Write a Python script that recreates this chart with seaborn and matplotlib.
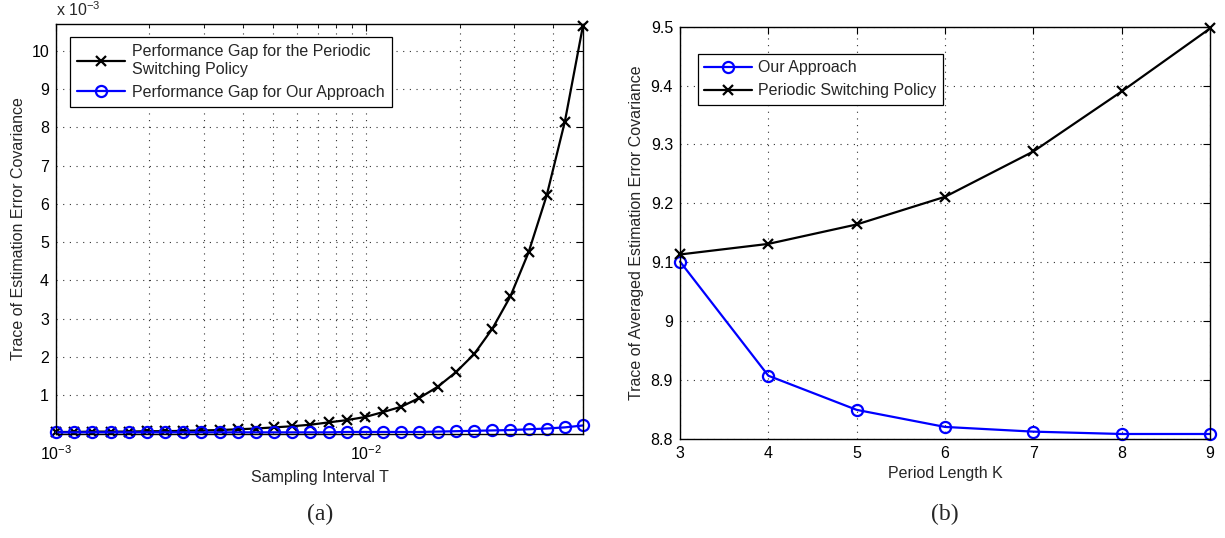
import matplotlib
matplotlib.use("Agg")
import matplotlib.pyplot as plt
import matplotlib.ticker as mticker
import pandas as pd
import seaborn as sns

# ---- (a) performance gap versus sampling interval (values in units of 1e-3) ----
sampling_interval = [
    0.001000, 0.001144, 0.001310, 0.001499, 0.001715, 0.001963, 0.002247, 0.002571,
    0.002942, 0.003367, 0.003854, 0.004410, 0.005047, 0.005776, 0.006611, 0.007565,
    0.008658, 0.009908, 0.011340, 0.012977, 0.014852, 0.016997, 0.019452, 0.022261,
    0.025476, 0.029156, 0.033367, 0.038186, 0.043701, 0.050000,
]
gap_periodic = [
    0.04, 0.04, 0.05, 0.05, 0.05, 0.06, 0.06, 0.07, 0.08, 0.09,
    0.11, 0.13, 0.16, 0.19, 0.23, 0.29, 0.35, 0.43, 0.56, 0.70,
    0.93, 1.22, 1.60, 2.07, 2.73, 3.58, 4.73, 6.22, 8.15, 10.66,
]
gap_ours = [
    0.03, 0.03, 0.03, 0.03, 0.03, 0.03, 0.03, 0.03, 0.03, 0.03,
    0.03, 0.03, 0.03, 0.03, 0.03, 0.03, 0.04, 0.04, 0.04, 0.04,
    0.04, 0.05, 0.06, 0.07, 0.08, 0.09, 0.11, 0.13, 0.16, 0.21,
]

# ---- (b) averaged covariance trace versus period length ----
period_length = [3, 4, 5, 6, 7, 8, 9]
trace_ours = [9.101, 8.907, 8.849, 8.820, 8.812, 8.808, 8.808]
trace_periodic = [9.113, 9.131, 9.164, 9.211, 9.288, 9.390, 9.497]

label_a_periodic = "Performance Gap for the Periodic\nSwitching Policy"
label_a_ours = "Performance Gap for Our Approach"
label_b_ours = "Our Approach"
label_b_periodic = "Periodic Switching Policy"

sns.set_style("white")
plt.rcParams["font.family"] = ["Liberation Sans", "DejaVu Sans"]
plt.rcParams["mathtext.fontset"] = "custom"
plt.rcParams["mathtext.rm"] = "Liberation Sans"
plt.rcParams["mathtext.it"] = "Liberation Sans:italic"
plt.rcParams["mathtext.default"] = "regular"

FS = 11.5
W, H = 1225, 538
fig = plt.figure(figsize=(W / 100, H / 100), dpi=100)

def px_axes(left, top, right, bottom):
    return fig.add_axes([left / W, 1 - bottom / H, (right - left) / W, (bottom - top) / H])

ax1 = px_axes(56, 24, 583, 433.5)
ax2 = px_axes(680, 26.7, 1210, 438.7)

BLUE = "#0000ff"
cross_kw = dict(color="black", marker="x", markersize=6.5, markeredgecolor="black",
                markeredgewidth=1.6, linewidth=1.6, clip_on=False)
circ_kw = dict(color=BLUE, marker="o", markersize=8, markerfacecolor="none",
               markeredgecolor=BLUE, markeredgewidth=1.6, linewidth=1.6, clip_on=False)

df_a = pd.DataFrame({"T": sampling_interval, "periodic": gap_periodic, "ours": gap_ours})
sns.lineplot(data=df_a, x="T", y="periodic", ax=ax1, label=label_a_periodic, **cross_kw)
sns.lineplot(data=df_a, x="T", y="ours", ax=ax1, label=label_a_ours, **circ_kw)

df_b = pd.DataFrame({"K": period_length, "ours": trace_ours, "periodic": trace_periodic})
sns.lineplot(data=df_b, x="K", y="ours", ax=ax2, label=label_b_ours, **circ_kw)
sns.lineplot(data=df_b, x="K", y="periodic", ax=ax2, label=label_b_periodic, **cross_kw)

grid_kw = dict(color="#333333", linestyle=(0, (1, 5)), linewidth=0.8)

# panel (a) axes
ax1.set_xscale("log")
ax1.set_xlim(1e-3, 5e-2)
ax1.set_ylim(0, 10.7)
ax1.set_yticks(range(1, 11))
ax1.xaxis.set_major_locator(mticker.FixedLocator([1e-3, 1e-2]))
ax1.xaxis.set_major_formatter(mticker.FixedFormatter([r"$10^{-3}$", r"$10^{-2}$"]))
ax1.xaxis.set_minor_locator(mticker.LogLocator(base=10, subs=range(2, 10), numticks=20))
ax1.xaxis.set_minor_formatter(mticker.NullFormatter())
ax1.grid(True, which="major", axis="both", **grid_kw)
ax1.grid(True, which="minor", axis="x", **grid_kw)
ax1.set_xlabel("Sampling Interval T", fontsize=FS, labelpad=5)
ax1.set_ylabel("Trace of Estimation Error Covariance", fontsize=FS, labelpad=4)
ax1.text(0.0, 1.012, r"x 10$^{-3}$", transform=ax1.transAxes, fontsize=FS,
         ha="left", va="bottom")

# panel (b) axes
ax2.set_xlim(3, 9)
ax2.set_ylim(8.8, 9.5)
ax2.set_xticks(period_length)
ax2.set_yticks([8.8, 8.9, 9.0, 9.1, 9.2, 9.3, 9.4, 9.5])
ax2.yaxis.set_major_formatter(mticker.FuncFormatter(lambda v, p: f"{v:g}"))
ax2.grid(True, which="major", **grid_kw)
ax2.set_xlabel("Period Length K", fontsize=FS, labelpad=4)
ax2.set_ylabel("Trace of Averaged Estimation Error Covariance", fontsize=FS, labelpad=5)

for ax in (ax1, ax2):
    for s in ax.spines.values():
        s.set_color("black")
        s.set_linewidth(1.0)
    ax.tick_params(which="both", direction="in", top=True, right=True,
                   labelsize=FS, colors="black", pad=5)
    ax.tick_params(which="major", length=5, width=0.8)
    ax.tick_params(which="minor", length=3, width=0.6)
    ax.set_axisbelow(True)
ax1.tick_params(axis="x", which="major", pad=8)

leg1 = ax1.legend(loc="upper left", bbox_to_anchor=(0.0266, 0.968), borderaxespad=0,
                  fontsize=FS, frameon=True, fancybox=False, framealpha=1,
                  edgecolor="black", handlelength=3.0, borderpad=0.45,
                  labelspacing=0.5, handletextpad=0.45)
leg1.get_frame().set_linewidth(0.9)
leg2 = ax2.legend(loc="upper left", bbox_to_anchor=(0.034, 0.934), borderaxespad=0,
                  fontsize=FS, frameon=True, fancybox=False, framealpha=1,
                  edgecolor="black", handlelength=3.0, borderpad=0.4,
                  labelspacing=0.5, handletextpad=0.35)
leg2.get_frame().set_linewidth(0.9)

fig.text(320 / W, 1 - 514 / H, "(a)", fontsize=17, family="Liberation Serif",
         ha="center", va="center")
fig.text(945 / W, 1 - 514 / H, "(b)", fontsize=17, family="Liberation Serif",
         ha="center", va="center")

fig.savefig("out.png", dpi=100)
